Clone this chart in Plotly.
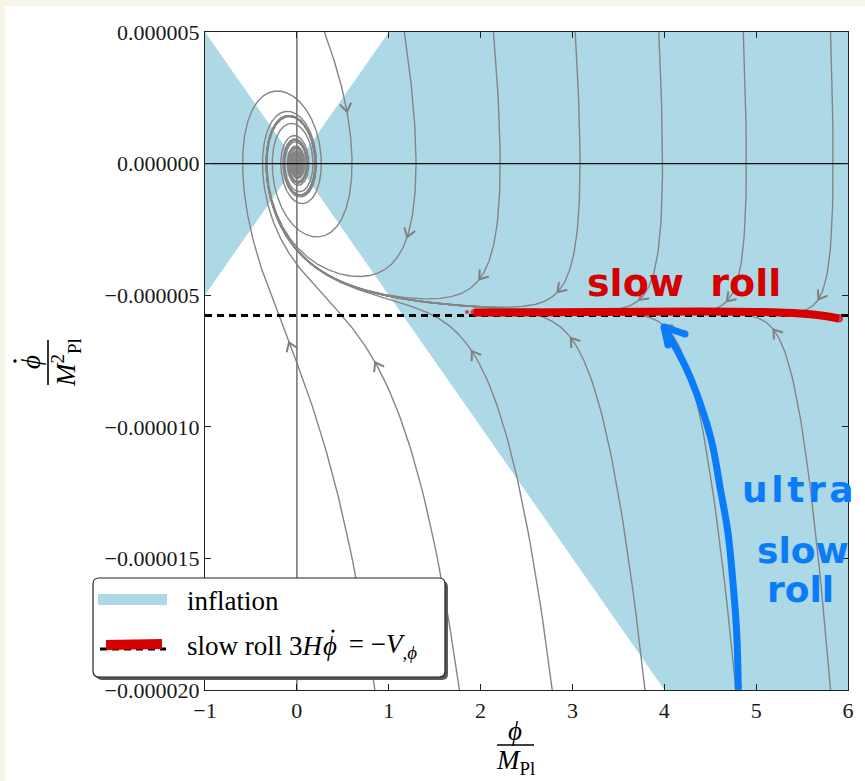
import math
import numpy as np
import plotly.graph_objects as go

# ---- axes ----
x_range = [-1, 6]
y_range = [-0.00002, 0.000005]
x_ticks = [-1, 0, 1, 2, 3, 4, 5, 6]
y_ticks = [0.000005, 0.0, -0.000005, -0.00001, -0.000015, -0.00002]
y_ticktext = ["0.000005", "0.000000", "\u22120.000005", "\u22120.000010",
              "\u22120.000015", "\u22120.000020"]

# ---- model: V = m^2 phi^2 / 2, M_Pl = 1 ----
slow_roll_velocity = -5.77e-6                 # attractor level of phi-dot
mass = -slow_roll_velocity / math.sqrt(2.0 / 3.0)
inflation_slope = mass / math.sqrt(2.0)       # |phi-dot| < m phi / sqrt(2)

# ---- streamline seeds (phi where each line enters the frame) ----
top_seed_phi = [0.30, 1.17, 2.14, 3.03, 3.94, 4.86, 5.81]      # enter at phi-dot = 5e-6
bottom_seed_phi = [0.85, 1.77, 2.78, 3.79, 4.78, 5.81]         # enter at phi-dot = -2e-5
top_arrow_phi = [0.54, 1.23, 2.01, 2.85, 3.75, 4.70, 5.70]
top_arrow_dphi = [1.98e-6, -2.81e-6, -4.48e-6, -4.90e-6, -5.24e-6, -5.28e-6, -5.24e-6]
bottom_arrow_phi = [-0.06, 0.87, 1.90, 2.99, 4.00, 5.18]
bottom_arrow_dphi = [-6.8e-6, -7.56e-6, -7.18e-6, -6.61e-6, -6.1e-6, -6.3e-6]

# ---- page geometry (plot area in pixels) ----
W, H = 865, 781
L, R, T, B = 205, 848, 32, 690
SX = (R - L) / (x_range[1] - x_range[0])
SY = (B - T) / (y_range[1] - y_range[0])


def pxp(xp):
    return (xp - L) / (R - L)


def pyp(yp):
    return (B - yp) / (B - T)


def dxp(xp):
    return x_range[0] + (xp - L) / SX


def dyp(yp):
    return y_range[1] - (yp - T) / SY


# ---- equations of motion in units of the mass ----
def rhs(p, v):
    h = math.sqrt((v * v + p * p) / 6.0)
    return v, -3.0 * h * v - p


def integrate(p, v, dt=0.003, nmax=300000, r_stop=0.004):
    ps, vs = [p], [v]
    for i in range(nmax):
        k1p, k1v = rhs(p, v)
        k2p, k2v = rhs(p + 0.5 * dt * k1p, v + 0.5 * dt * k1v)
        k3p, k3v = rhs(p + 0.5 * dt * k2p, v + 0.5 * dt * k2v)
        k4p, k4v = rhs(p + dt * k3p, v + dt * k3v)
        p += dt * (k1p + 2 * k2p + 2 * k3p + k4p) / 6.0
        v += dt * (k1v + 2 * k2v + 2 * k3v + k4v) / 6.0
        if i % 4 == 0:
            ps.append(p)
            vs.append(v)
        if math.hypot(p, v) < r_stop:
            break
    return np.array(ps), np.array(vs) * mass


def chevron(path_x, path_y, ax, ay, length=10.0, ang=35.0):
    d2 = ((path_x - ax) * SX) ** 2 + ((path_y - ay) * SY) ** 2
    i = int(np.argmin(d2))
    fx, fv = rhs(path_x[i], path_y[i] / mass)
    ux, uy = fx * SX, fv * mass * SY
    n = math.hypot(ux, uy)
    ux, uy = ux / n, uy / n
    tx, ty = path_x[i] * SX, path_y[i] * SY
    pts = []
    for s in (1, -1):
        a = math.radians(ang) * s
        rx = ux * math.cos(a) - uy * math.sin(a)
        ry = ux * math.sin(a) + uy * math.cos(a)
        pts.append(((tx - length * rx) / SX, (ty - length * ry) / SY))
    return ([pts[0][0], path_x[i], pts[1][0], None],
            [pts[0][1], path_y[i], pts[1][1], None])


fig = go.Figure()

# inflation region
k = inflation_slope
x_top = y_range[1] / k
x_bot = -y_range[0] / k
fig.add_trace(go.Scatter(
    x=[x_range[0], 0, x_range[0], x_range[0], None,
       0, x_top, x_range[1], x_range[1], x_bot, 0],
    y=[k * -x_range[0], 0, k * x_range[0], k * -x_range[0], None,
       0, y_range[1], y_range[1], y_range[0], y_range[0], 0],
    fill="toself", fillcolor="#add8e6", mode="lines",
    line=dict(width=0, color="#add8e6"), hoverinfo="skip", showlegend=False))

# streamlines
seeds = ([(p, y_range[1] / mass) for p in top_seed_phi] +
         [(p, y_range[0] / mass) for p in bottom_seed_phi])
arrows = (list(zip(top_arrow_phi, top_arrow_dphi)) +
          list(zip(bottom_arrow_phi, bottom_arrow_dphi)))
cx, cy = [], []
for (p0, v0), (ax, ay) in zip(seeds, arrows):
    xs, ys = integrate(p0, v0)
    fig.add_trace(go.Scatter(x=xs, y=ys, mode="lines",
                             line=dict(color="#858585", width=1.4),
                             hoverinfo="skip", showlegend=False))
    a, b = chevron(xs, ys, ax, ay)
    cx += a
    cy += b
fig.add_trace(go.Scatter(x=cx, y=cy, mode="lines",
                         line=dict(color="#7f7f7f", width=2),
                         hoverinfo="skip", showlegend=False))

# reference axes through the origin
fig.add_trace(go.Scatter(x=[0, 0], y=y_range, mode="lines",
                         line=dict(color="#7a7a7a", width=1.6),
                         hoverinfo="skip", showlegend=False))
fig.add_trace(go.Scatter(x=x_range, y=[0, 0], mode="lines",
                         line=dict(color="#111111", width=1.1),
                         hoverinfo="skip", showlegend=False))

# slow-roll attractor
fig.add_trace(go.Scatter(x=x_range, y=[slow_roll_velocity] * 2, mode="lines",
                         line=dict(color="black", width=3, dash="7px,5px"),
                         hoverinfo="skip", showlegend=False))

# hand-drawn red stroke along the attractor
red = "#d50000"
stroke_x = [dxp(v) for v in (474, 520, 600, 700, 760, 800, 825, 839)]
stroke_y = [dyp(v) for v in (312.5, 312.5, 312, 311.5, 312, 313.5, 316, 318.5)]
fig.add_trace(go.Scatter(x=stroke_x, y=stroke_y, mode="lines", line_shape="spline",
                         line=dict(color=red, width=8),
                         hoverinfo="skip", showlegend=False))
fig.add_trace(go.Scatter(x=[stroke_x[0], stroke_x[-1], dxp(467)],
                         y=[stroke_y[0], stroke_y[-1], dyp(312)], mode="markers",
                         marker=dict(color=red, size=[7, 8, 4], line=dict(width=0)),
                         hoverinfo="skip", showlegend=False))

# hand-drawn blue arrow
blue = "#0a7cfa"
arr_x = [dxp(v) for v in (738.3, 736.7, 733, 728, 720, 712, 700, 687, 673, 665)]
arr_y = [dyp(v) for v in (688, 633, 583, 533, 487, 443, 403, 370, 343, 330)]
fig.add_trace(go.Scatter(x=arr_x, y=arr_y, mode="lines", line_shape="spline",
                         line=dict(color=blue, width=7),
                         hoverinfo="skip", showlegend=False))
fig.add_trace(go.Scatter(x=[dxp(668), dxp(664), dxp(685)],
                         y=[dyp(345), dyp(327), dyp(334)], mode="lines",
                         line=dict(color=blue, width=7),
                         hoverinfo="skip", showlegend=False))
fig.add_trace(go.Scatter(x=[dxp(738.3), dxp(664), dxp(668), dxp(685)],
                         y=[dyp(688), dyp(327), dyp(345), dyp(334)],
                         mode="markers", marker=dict(color=blue, size=7, line=dict(width=0)),
                         hoverinfo="skip", showlegend=False))

serif = "Liberation Serif"
hand = "DejaVu Sans"
ann = []
ann.append(dict(x=dxp(585), y=dyp(283), xref="x", yref="y", xanchor="left",
                yanchor="middle", text="<b>slow  roll</b>", showarrow=False,
                font=dict(family=hand, size=38, color=red)))
hs = "\u200a"
for txt, xl, yc, sz in ((hs.join("ultra"), 740, 489, 36), ("slow", 755, 550, 36),
                        ("roll", 765, 589, 36)):
    ann.append(dict(x=pxp(xl), y=pyp(yc), xref="paper", yref="paper",
                    xanchor="left", yanchor="middle", text="<b>" + txt + "</b>",
                    showarrow=False, font=dict(family=hand, size=sz, color=blue)))

# axis titles as stacked fractions
title_font = dict(family=serif, size=27, color="black")
ann.append(dict(x=pxp(515), y=pyp(731), xref="paper", yref="paper",
                xanchor="center", yanchor="middle",
                text="<i>\u03d5</i>", showarrow=False, font=title_font))
ann.append(dict(x=pxp(515), y=pyp(762), xref="paper", yref="paper",
                xanchor="center", yanchor="middle",
                text="<i>M</i><sub>Pl</sub>", showarrow=False, font=title_font))
ann.append(dict(x=pxp(31), y=pyp(362), xref="paper", yref="paper",
                xanchor="center", yanchor="middle",
                text="<i>\u03d5</i>", showarrow=False, textangle=-90,
                font=title_font))
ann.append(dict(x=pxp(66), y=pyp(363), xref="paper", yref="paper",
                xanchor="center", yanchor="middle",
                text="<i>M</i><sup>2</sup><sub>Pl</sub>", showarrow=False,
                textangle=-90, font=title_font))

# legend text
leg_font = dict(family=serif, size=27, color="black")
ann.append(dict(x=pxp(185), y=pyp(601), xref="paper", yref="paper",
                xanchor="left", yanchor="middle", text="inflation",
                showarrow=False, font=leg_font))
ann.append(dict(x=pxp(185), y=pyp(646), xref="paper", yref="paper",
                xanchor="left", yanchor="middle",
                text="slow roll 3<i>H</i>", showarrow=False, font=leg_font))
ann.append(dict(x=pxp(330), y=pyp(646), xref="paper", yref="paper",
                xanchor="center", yanchor="middle",
                text="<i>\u03d5</i>", showarrow=False, font=leg_font))
ann.append(dict(x=pxp(340), y=pyp(646), xref="paper", yref="paper",
                xanchor="left", yanchor="middle",
                text=" = \u2212<i>V</i><sub>,<i>\u03d5</i></sub>",
                showarrow=False, font=leg_font))


def rounded(x0, y0, x1, y1, r):
    pts = []
    pts.append("M %f,%f" % (pxp(x0 + r), pyp(y0)))
    pts.append("L %f,%f" % (pxp(x1 - r), pyp(y0)))
    pts.append("Q %f,%f %f,%f" % (pxp(x1), pyp(y0), pxp(x1), pyp(y0 + r)))
    pts.append("L %f,%f" % (pxp(x1), pyp(y1 - r)))
    pts.append("Q %f,%f %f,%f" % (pxp(x1), pyp(y1), pxp(x1 - r), pyp(y1)))
    pts.append("L %f,%f" % (pxp(x0 + r), pyp(y1)))
    pts.append("Q %f,%f %f,%f" % (pxp(x0), pyp(y1), pxp(x0), pyp(y1 - r)))
    pts.append("L %f,%f" % (pxp(x0), pyp(y0 + r)))
    pts.append("Q %f,%f %f,%f" % (pxp(x0), pyp(y0), pxp(x0 + r), pyp(y0)))
    return " ".join(pts) + " Z"


def dot(xc, yc, r=1.7):
    return dict(type="circle", xref="paper", yref="paper", layer="above",
                x0=pxp(xc - r), x1=pxp(xc + r), y0=pyp(yc + r), y1=pyp(yc - r),
                fillcolor="black", line=dict(width=0))


shapes = [
    # page frame: cream margin with white figure
    dict(type="rect", xref="paper", yref="paper", layer="below",
         x0=pxp(5), x1=pxp(W + 20), y0=pyp(H + 20), y1=pyp(6),
         fillcolor="white", line=dict(width=0)),
    # legend box with shadow
    dict(type="path", xref="paper", yref="paper", layer="above",
         path=rounded(96, 581, 448, 680, 6), fillcolor="#5a5a5a",
         line=dict(width=0)),
    dict(type="path", xref="paper", yref="paper", layer="above",
         path=rounded(93, 578, 445, 677, 6), fillcolor="white",
         line=dict(color="#222222", width=1.2)),
    dict(type="rect", xref="paper", yref="paper", layer="above",
         x0=pxp(98), x1=pxp(167), y0=pyp(605), y1=pyp(594),
         fillcolor="#add8e6", line=dict(width=0)),
    dict(type="line", xref="paper", yref="paper", layer="above",
         x0=pxp(100), x1=pxp(166), y0=pyp(649), y1=pyp(649),
         line=dict(color="black", width=3, dash="7px,5px")),
    dict(type="line", xref="paper", yref="paper", layer="above",
         x0=pxp(106), x1=pxp(162), y0=pyp(645), y1=pyp(644),
         line=dict(color=red, width=10)),
    # fraction bars of the axis titles
    dict(type="line", xref="paper", yref="paper", layer="above",
         x0=pxp(497), x1=pxp(534), y0=pyp(745), y1=pyp(745),
         line=dict(color="black", width=1.6)),
    dict(type="line", xref="paper", yref="paper", layer="above",
         x0=pxp(48), x1=pxp(48), y0=pyp(340), y1=pyp(385),
         line=dict(color="black", width=1.6)),
    # time-derivative dots
    dot(15, 361),
    dot(333, 631, 1.6),
]

axis_common = dict(showline=True, linecolor="#222222", linewidth=1.2,
                   mirror="ticks", ticks="inside", ticklen=6,
                   tickcolor="#222222", tickwidth=1.2, showgrid=False,
                   zeroline=False,
                   tickfont=dict(family=serif, size=22, color="#1a1a1a"))

fig.update_layout(
    width=W, height=H, autosize=False,
    margin=dict(l=L, r=W - R, t=T, b=H - B, pad=0),
    paper_bgcolor="#f6f3e7", plot_bgcolor="white",
    showlegend=False,
    xaxis=dict(range=x_range, tickvals=x_ticks,
               ticktext=["\u22121"] + [str(v) for v in x_ticks[1:]],
               **axis_common),
    yaxis=dict(range=y_range, tickvals=y_ticks, ticktext=y_ticktext,
               **axis_common),
    annotations=ann,
    shapes=shapes,
)

fig.write_html("out.html")
